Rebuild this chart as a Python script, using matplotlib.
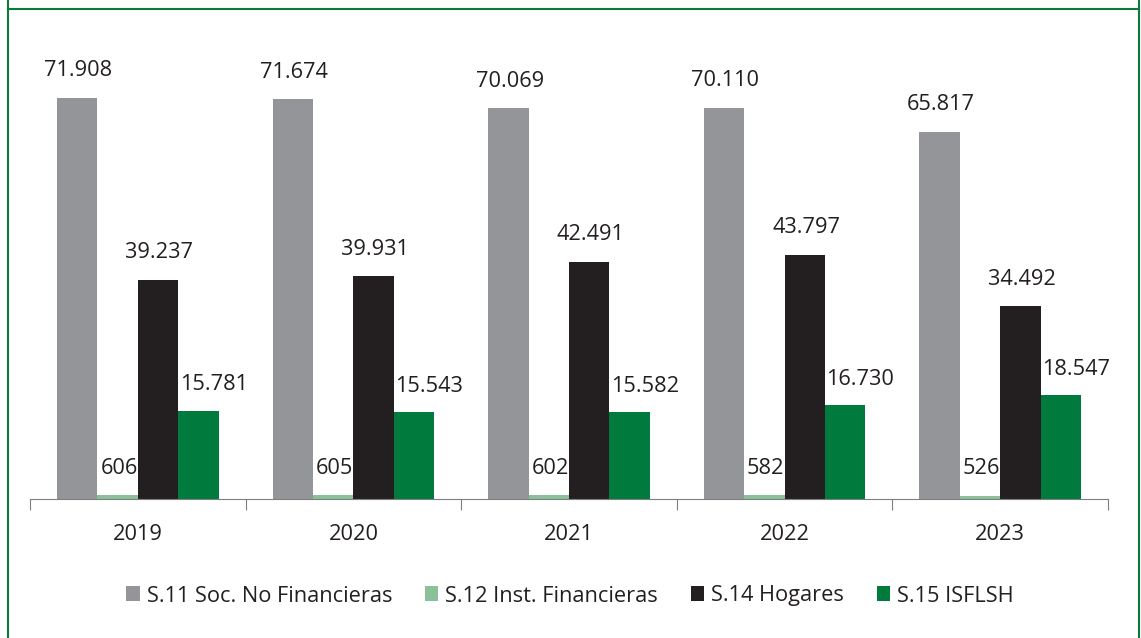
import matplotlib.pyplot as plt
import numpy as np
from matplotlib.lines import Line2D

years = ["2019", "2020", "2021", "2022", "2023"]
series = ["S.11 Soc. No Financieras", "S.12 Inst. Financieras", "S.14 Hogares", "S.15 ISFLSH"]
s11 = [71908, 71674, 70069, 70110, 65817]
s12 = [606, 605, 602, 582, 526]
s14 = [39237, 39931, 42491, 43797, 34492]
s15 = [15781, 15543, 15582, 16730, 18547]
colors = ["#939598", "#8bc09a", "#231f20", "#007a3d"]

plt.rcParams["font.family"] = ["Open Sans", "DejaVu Sans"]
txt = "#231f20"
fs = 15.7

fig = plt.figure(figsize=(11.41, 6.38), dpi=100)
ax = fig.add_axes([30 / 1141, 1 - 498.5 / 638, 1078 / 1141, 445.6 / 638])

x = np.arange(len(years))
w = 0.1875
for i, (vals, c) in enumerate(zip([s11, s12, s14, s15], colors)):
    pos = x + (i - 1.5) * w
    ax.bar(pos, vals, width=w, color=c, label=series[i])
    for p, v in zip(pos, vals):
        lab = f"{v:,}".replace(",", ".")
        if i == 3:
            # green labels start at the bar's left edge
            ax.annotate(lab, (p - w / 2, v), xytext=(1, 18.5),
                        textcoords="offset points", ha="left", va="center",
                        fontsize=fs, color=txt)
        else:
            ax.annotate(lab, (p, v), xytext=(1, 19.5),
                        textcoords="offset points", ha="center", va="center",
                        fontsize=fs, color=txt)

ax.set_xlim(-0.5, len(years) - 0.5)
ax.set_ylim(0, 80000)
for s in ["top", "left", "right"]:
    ax.spines[s].set_visible(False)
ax.spines["bottom"].set_color("#7f7f7f")
ax.set_yticks([])
ax.set_xticks(np.arange(-0.5, len(years), 1))
ax.set_xticklabels([])
ax.tick_params(axis="x", length=8, color="#7f7f7f")
ax.set_xticks(x, minor=True)
ax.set_xticklabels(years, minor=True, fontsize=fs, color=txt)
ax.tick_params(axis="x", which="minor", length=0, pad=18)

leg = fig.legend(loc="center", bbox_to_anchor=(570 / 1141, 1 - 596 / 638),
                 ncol=4, frameon=False, fontsize=fs, handlelength=0.62,
                 handleheight=0.66, handletextpad=0.32, columnspacing=1.5,
                 borderpad=0, borderaxespad=0)
for t in leg.get_texts():
    t.set_color(txt)

# green frame
g = "#0b7a3b"
fig.add_artist(Line2D([7.5 / 1141, 7.5 / 1141], [0, 1], color=g, lw=1.5))
fig.add_artist(Line2D([1138.5 / 1141, 1138.5 / 1141], [0, 1], color=g, lw=1.5))
fig.add_artist(Line2D([7.5 / 1141, 1138.5 / 1141], [1 - 8.5 / 638, 1 - 8.5 / 638], color=g, lw=1.5))

fig.savefig("out.png", dpi=100)
